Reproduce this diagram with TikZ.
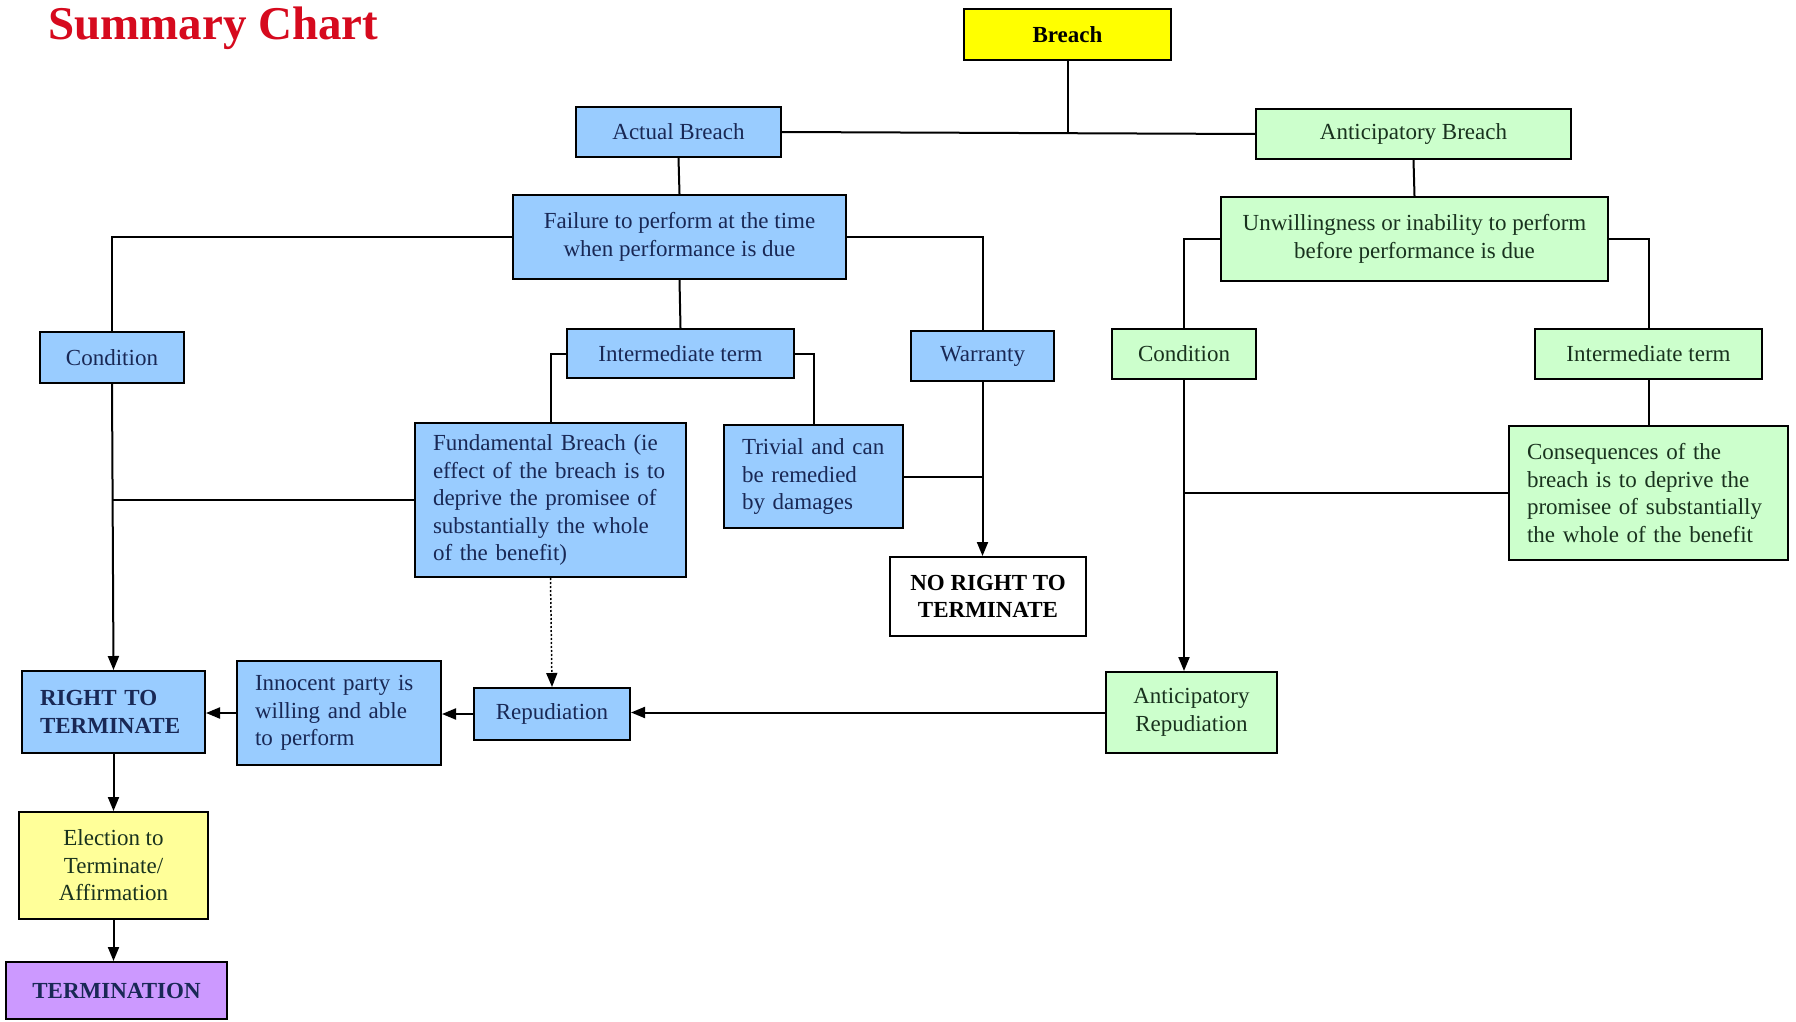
\documentclass[tikz,border=0pt]{standalone}
\usepackage{fontspec}
\setmainfont{Liberation Serif}
\usetikzlibrary{arrows.meta}
\definecolor{bluefill}{RGB}{153,204,255}
\definecolor{greenfill}{RGB}{204,255,204}
\definecolor{yellowfill}{RGB}{255,255,0}
\definecolor{paleyellow}{RGB}{255,255,153}
\definecolor{purplefill}{RGB}{204,153,255}
\definecolor{titlered}{RGB}{214,10,30}
\definecolor{navytext}{RGB}{25,40,85}
\definecolor{greentext}{RGB}{25,50,30}
\newcommand\bfnt{\fontsize{23}{27.5}\selectfont}
\begin{document}
\begin{tikzpicture}[x=1pt,y=-1pt,
  box/.style={draw=black, line width=2pt, inner sep=0pt, align=center, font=\bfnt},
  wh/.style 2 args={minimum width=#1pt, minimum height=#2pt},
  bluebox/.style={box, fill=bluefill, text=navytext},
  greenbox/.style={box, fill=greenfill, text=greentext},
  lbox/.style={align=left, inner xsep=18pt, text width=#1pt-36pt},
  conn/.style={line width=2pt, draw=black},
  arr/.style={conn, -{Triangle[length=14pt,width=11pt]}}]
\useasboundingbox (0,0) rectangle (1796,1022);
\fill[white] (0,0) rectangle (1796,1022);

\node[anchor=base west, inner sep=0pt, text=titlered, font=\fontsize{47}{50}\selectfont\bfseries] (title) at (48,40) {Summary Chart};

\node[box, fill=yellowfill, font=\bfnt\bfseries, wh={207}{51}] (breach) at (1067.5,34.5) {Breach};
\node[bluebox, wh={205}{50}] (actual) at (678.5,132) {Actual Breach};
\node[greenbox, wh={315}{50}] (antic) at (1413.5,134) {Anticipatory Breach};
\node[bluebox, wh={333}{84}] (failure) at (679.5,237) {Failure to perform at the time\\when performance is due};
\node[greenbox, wh={387}{84}] (unwill) at (1414.5,239) {Unwillingness or inability to perform\\before performance is due};
\node[bluebox, wh={144}{51}] (condL) at (112,357.5) {Condition};
\node[bluebox, wh={227}{49}] (interB) at (680.5,353.5) {Intermediate term};
\node[bluebox, wh={143}{50}] (warranty) at (982.5,356) {Warranty};
\node[greenbox, wh={144}{50}] (condG) at (1184,354) {Condition};
\node[greenbox, wh={227}{50}] (interG) at (1648.5,354) {Intermediate term};
\node[bluebox, lbox=271, minimum height=154pt] (fund) at (550.5,500) {Fundamental Breach (ie\\effect of the breach is to\\deprive the promisee of\\substantially the whole\\of the benefit)};
\node[bluebox, lbox=179, minimum height=103pt] (trivial) at (813.5,476.5) {Trivial and can\\be remedied\\by damages};
\node[box, fill=white, font=\bfnt\bfseries, wh={196}{79}] (noright) at (988,596.5) {NO RIGHT TO\\TERMINATE};
\node[greenbox, lbox=279, minimum height=134pt] (conseq) at (1648.5,493) {Consequences of the\\breach is to deprive the\\promisee of substantially\\the whole of the benefit};
\node[bluebox, font=\bfnt\bfseries, lbox=183, minimum height=82pt] (right) at (113.5,712) {RIGHT TO\\TERMINATE};
\node[bluebox, lbox=204, minimum height=104pt] (innocent) at (339,713) {Innocent party is\\willing and able\\to perform};
\node[bluebox, wh={156}{52}] (repud) at (552,714) {Repudiation};
\node[greenbox, wh={171}{81}] (antrep) at (1191.5,712.5) {Anticipatory\\Repudiation};
\node[box, fill=paleyellow, text=greentext, wh={189}{107}] (election) at (113.5,865.5) {Election to\\Terminate/\\Affirmation};
\node[box, fill=purplefill, text=navytext, font=\bfnt\bfseries, wh={221}{57}] (termination) at (116.5,990.5) {TERMINATION};

% connectors
\draw[conn] (breach.south) -- (breach.south |- actual.east);
\draw[conn] (actual.east) -- (antic.west);
\draw[conn] (actual.south) -- (failure.north);
\draw[conn] (antic.south) -- (unwill.north);
\draw[conn] (failure.west) -| (condL.north);
\draw[conn] (failure.south) -- (interB.north);
\draw[conn] (failure.east) -| (warranty.north);
\draw[conn] (interB.west) -| (fund.north);
\draw[conn] (interB.east) -| (trivial.north);
\draw[arr] (warranty.south) -- (warranty.south |- noright.north);
\draw[conn] (trivial.east) -- (trivial.east -| warranty.south);
\draw[arr] (condL.south) -- (right.north);
\draw[conn] (fund.west) -- (fund.west -| condL.south);
\draw[arr, line width=1.5pt, dash pattern=on 2pt off 2pt] (fund.south) -- (repud.north);
\draw[arr] (repud.west) -- (repud.west -| innocent.east);
\draw[arr] (innocent.west) -- (innocent.west -| right.east);
\draw[arr] (antrep.west) -- (antrep.west -| repud.east);
\draw[conn] (unwill.west) -| (condG.north);
\draw[conn] (unwill.east) -| (interG.north);
\draw[arr] (condG.south) -- (condG.south |- antrep.north);
\draw[conn] (interG.south) -- (conseq.north);
\draw[conn] (conseq.west) -- (conseq.west -| condG.south);
\draw[arr] (right.south) -- (right.south |- election.north);
\draw[arr] (election.south) -- (election.south |- termination.north);
\end{tikzpicture}
\end{document}
